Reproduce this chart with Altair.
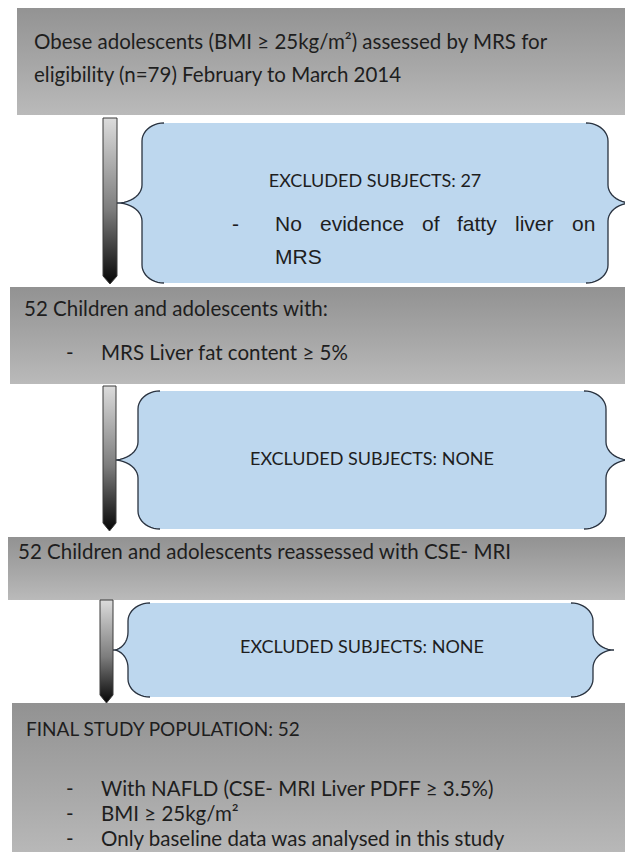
import altair as alt
import pandas as pd
import numpy as np

FONT = "Lato"
TEXT_COLOR = "#1e1e1e"

# ---------------- content ----------------
stage_lines = [
    "Obese adolescents (BMI ≥ 25kg/m²) assessed by MRS for",
    "eligibility (n=79) February to March 2014",
    "52 Children and adolescents with:",
    "52 Children and adolescents reassessed with CSE- MRI",
]
final_title = "FINAL STUDY POPULATION: 52"
stage_bullets = [
    "MRS Liver fat content ≥ 5%",
    "With NAFLD (CSE- MRI Liver PDFF ≥ 3.5%)",
    "BMI ≥ 25kg/m²",
    "Only baseline data was analysed in this study",
]
excluded_labels = [
    "EXCLUDED SUBJECTS: 27",
    "EXCLUDED SUBJECTS: NONE",
    "EXCLUDED SUBJECTS: NONE",
]
reason_words = ["No", "evidence", "of", "fatty", "liver", "on"]
reason_last = "MRS"

# ---------------- layout (pixel space of the figure) ----------------
W, H = 617, 844
X = alt.Scale(domain=[8, 8 + W])
Y = alt.Scale(domain=[8, 8 + H], reverse=True)

gray_boxes = pd.DataFrame({
    "x": [17, 10, 5, 12],
    "x2": [633, 633, 633, 633],
    "y": [5, 287, 537, 703],
    "y2": [115, 384, 600, 860],
})

# braces: top, bottom, left tip, left vertical, right vertical, right tip
brace_geo = [
    (123, 283, 117, 142, 608, 632),
    (391, 529, 113, 138, 606, 630),
    (603, 697, 113, 128, 593, 614),
]

def brace_profile(t, b, xt, xv, side):
    """x of a curly-brace outline as a function of y."""
    m = (t + b) / 2.0
    r = min(18.0, (b - t) / 5.0)
    hook = 22.0 * side  # hook end points towards the inside
    ys, xs = [], []
    for th in np.linspace(0, np.pi / 2, 12):
        ys.append(t + r - r * np.cos(th))
        xs.append(xv + hook - hook * np.sin(th))
    ys.append(m - r); xs.append(xv)
    for ph in np.linspace(0, np.pi / 2, 12)[1:]:
        ys.append(m - r + r * np.sin(ph))
        xs.append(xt + (xv - xt) * np.cos(ph))
    for ph in np.linspace(np.pi / 2, 0, 12)[1:]:
        ys.append(m + r - r * np.sin(ph))
        xs.append(xt + (xv - xt) * np.cos(ph))
    ys.append(b - r); xs.append(xv)
    for th in np.linspace(np.pi / 2, 0, 12)[1:]:
        ys.append(b - r + r * np.cos(th))
        xs.append(xv + hook - hook * np.sin(th))
    return np.array(ys), np.array(xs)

fill_rows, line_rows = [], []
for i, (t, b, xtl, xvl, xvr, xtr) in enumerate(brace_geo):
    yl, xl = brace_profile(t, b, xtl, xvl, +1)
    yr, xr = brace_profile(t, b, xtr, xvr, -1)
    for k in range(len(yl)):
        fill_rows.append({"box": i, "y": yl[k], "xl": xl[k], "xr": xr[k]})
        line_rows.append({"key": f"{i}L", "y": yl[k], "x": xl[k], "o": k})
        line_rows.append({"key": f"{i}R", "y": yr[k], "x": xr[k], "o": k})
fill_df = pd.DataFrame(fill_rows)
line_df = pd.DataFrame(line_rows)

# arrows: x left, x right, top, tip
arrow_geo = [(103, 117, 118, 284), (103, 116, 386, 531), (100, 113, 600, 703)]
arrow_rows = []
for i, (a, b2, t, tip) in enumerate(arrow_geo):
    c = (a + b2) / 2
    arrow_rows += [
        {"arrow": i, "y": t, "xl": a, "xr": b2},
        {"arrow": i, "y": tip - 8, "xl": a, "xr": b2},
        {"arrow": i, "y": tip, "xl": c, "xr": c},
    ]
arrow_df = pd.DataFrame(arrow_rows)

gray_grad = alt.Gradient(
    gradient="linear",
    stops=[alt.GradientStop(color="#929292", offset=0),
           alt.GradientStop(color="#a9a9a9", offset=0.6),
           alt.GradientStop(color="#bababa", offset=1)],
    x1=0, x2=0, y1=0, y2=1,
)
arrow_grad = alt.Gradient(
    gradient="linear",
    stops=[alt.GradientStop(color="#dcdcdc", offset=0),
           alt.GradientStop(color="#7d7d7d", offset=0.55),
           alt.GradientStop(color="#050505", offset=1)],
    x1=0, x2=0, y1=0, y2=1,
)

boxes = alt.Chart(gray_boxes).mark_rect(fill=gray_grad, clip=True).encode(
    x=alt.X("x:Q", scale=X, axis=None), x2="x2:Q",
    y=alt.Y("y:Q", scale=Y, axis=None), y2="y2:Q",
)

brace_fill = alt.Chart(fill_df).mark_area(
    orient="horizontal", color="#bdd7ee", clip=True
).encode(
    y=alt.Y("y:Q", scale=Y, axis=None),
    x=alt.X("xl:Q", scale=X, axis=None, stack=None), x2="xr:Q",
    detail="box:N",
)

brace_lines = alt.Chart(line_df).mark_line(
    color="#2a3340", strokeWidth=1.3, clip=True
).encode(
    x=alt.X("x:Q", scale=X, axis=None),
    y=alt.Y("y:Q", scale=Y, axis=None),
    detail="key:N", order="o:Q",
)

arrows = alt.Chart(arrow_df).mark_area(
    orient="horizontal", fill=arrow_grad, stroke="#3a3a3a", strokeWidth=1
).encode(
    y=alt.Y("y:Q", scale=Y, axis=None),
    x=alt.X("xl:Q", scale=X, axis=None, stack=None), x2="xr:Q",
    detail="arrow:N",
)

# text placements
main_text = pd.DataFrame({
    "t": stage_lines,
    "x": [34, 34, 24, 18],
    "y": [43, 76, 310, 553],
})
final_text = pd.DataFrame({"t": [final_title], "x": [26], "y": [730]})
bullet_text = pd.DataFrame({
    "t": stage_bullets,
    "x": [101, 101, 101, 101],
    "y": [354, 790, 815, 840],
})
dash_text = pd.DataFrame({
    "t": ["-"] * 4,
    "x": [66, 66, 66, 66],
    "y": [354, 790, 815, 840],
})
excl_text = pd.DataFrame({
    "t": excluded_labels,
    "x": [375, 372, 362],
    "y": [182, 460, 648],
})
reason_text = pd.DataFrame({
    "t": ["-"] + reason_words + [reason_last],
    "x": [232, 275, 320, 422, 457, 515, 572, 275],
    "y": [225, 225, 225, 225, 225, 225, 225, 258],
})

def txt(df, align="left", size=20.5, font=FONT):
    return alt.Chart(df).mark_text(
        align=align, baseline="middle", font=font, fontSize=size, color=TEXT_COLOR
    ).encode(
        x=alt.X("x:Q", scale=X, axis=None),
        y=alt.Y("y:Q", scale=Y, axis=None),
        text="t:N",
    )

chart = alt.layer(
    boxes,
    brace_fill,
    brace_lines,
    arrows,
    txt(main_text),
    txt(final_text, size=19),
    txt(dash_text),
    txt(bullet_text),
    txt(excl_text, align="center", size=18),
    txt(reason_text, size=21, font="Liberation Sans"),
).properties(width=W, height=H, padding=0).configure_view(stroke=None)

chart.save("out.html", embed_options={"renderer": "svg", "actions": False})
